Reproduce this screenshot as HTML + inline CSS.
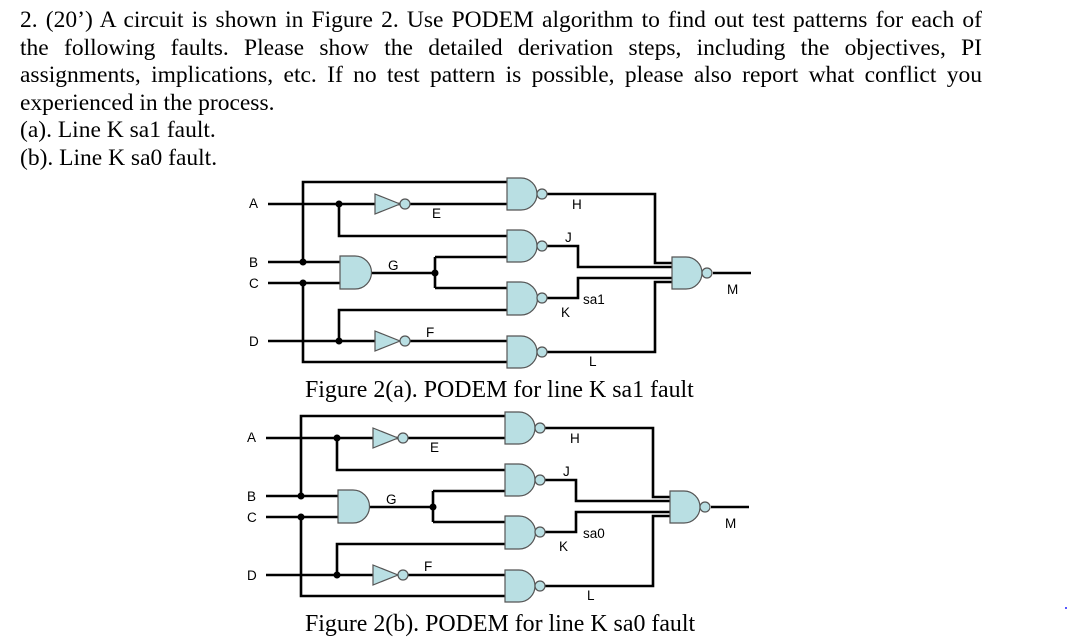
<!DOCTYPE html>
<html><head><meta charset="utf-8"><style>
body{margin:0;background:#fff;width:1071px;height:640px;overflow:hidden;position:relative}
.t{position:absolute;left:20px;width:962px;font-family:"Liberation Serif",serif;font-size:23.5px;line-height:27.6px;color:#000;top:7px}
.t div{white-space:nowrap}
.j{text-align:justify;text-align-last:justify;white-space:normal!important}
.cap{position:absolute;font-family:"Liberation Serif",serif;font-size:23.9px;color:#000}
svg{position:absolute;left:0;top:0}
</style></head><body>
<div class="t">
<div class="j">2. (20’) A circuit is shown in Figure 2. Use PODEM algorithm to find out test patterns for each of</div>
<div class="j">the following faults. Please show the detailed derivation steps, including the objectives, PI</div>
<div class="j">assignments, implications, etc. If no test pattern is possible, please also report what conflict you</div>
<div>experienced in the process.</div>
<div>(a). Line K sa1 fault.</div>
<div>(b). Line K sa0 fault.</div>
</div>
<div class="cap" style="left:305px;top:377px">Figure 2(a). PODEM for line K sa1 fault</div>
<div class="cap" style="left:305px;top:611px">Figure 2(b). PODEM for line K sa0 fault</div>
<svg width="1071" height="640" viewBox="0 0 1071 640">
<defs>
<g id="c">
<g fill="none" stroke="#000" stroke-width="2.6">
<path d="M268 204H507M303 262V182H507M339 204V236H507"/>
<path d="M268 262H340M268 283H340M370 273H435M435 257V288M435 257H507M435 288H507"/>
<path d="M303 283V362H507M268 341H375M339 341V310H507M410 341H507"/>
<path d="M547 194H655V263H672M547 246H578V267H672M547 298H578V278H672M547 352H655V282H672M713 273H751"/>
</g>
<g fill="#b9dfe3" stroke="#555" stroke-width="1.2">
<path d="M340 256H355A16.5 16.5 0 0 1 355 289H340Z"/>
<path d="M375 194L400 204L375 214Z"/><circle cx="405" cy="204" r="5"/>
<path d="M375 331L400 341L375 351Z"/><circle cx="405" cy="341" r="5"/>
<path d="M507 178H521A16 16 0 0 1 521 210H507Z"/><circle cx="542" cy="194" r="5"/>
<path d="M507 230H521A16 16 0 0 1 521 262H507Z"/><circle cx="542" cy="246" r="5"/>
<path d="M507 282H521A16.5 16.5 0 0 1 521 315H507Z"/><circle cx="542" cy="298" r="5"/>
<path d="M507 336H521A16 16 0 0 1 521 368H507Z"/><circle cx="542" cy="352" r="5"/>
<path d="M672 257H686A16 16 0 0 1 686 289H672Z"/><circle cx="707" cy="273" r="5"/>
</g>
<g fill="#000"><circle cx="303" cy="262" r="3.5"/><circle cx="303" cy="283" r="3.5"/><circle cx="339" cy="204" r="3.5"/><circle cx="339" cy="341" r="3.5"/><circle cx="435" cy="273" r="3.5"/></g>
<g font-family="Liberation Sans,sans-serif" font-size="13.5" fill="#000">
<text x="249" y="208">A</text><text x="249" y="267">B</text><text x="249" y="288">C</text><text x="249" y="346">D</text>
<text x="432" y="218">E</text><text x="388" y="270">G</text><text x="426" y="337">F</text>
<text x="572" y="209">H</text><text x="565" y="242">J</text><text x="561" y="317">K</text><text x="589" y="366">L</text><text x="727" y="294">M</text>
</g>
</g>
</defs>
<use href="#c"/>
<text x="583" y="304" font-family="Liberation Sans,sans-serif" font-size="13.5">sa1</text>
<use href="#c" transform="translate(-2,234)"/>
<text x="583" y="538" font-family="Liberation Sans,sans-serif" font-size="13.5">sa0</text>
<circle cx="1066" cy="608" r="1" fill="#22f"/>
</svg>
</body></html>
